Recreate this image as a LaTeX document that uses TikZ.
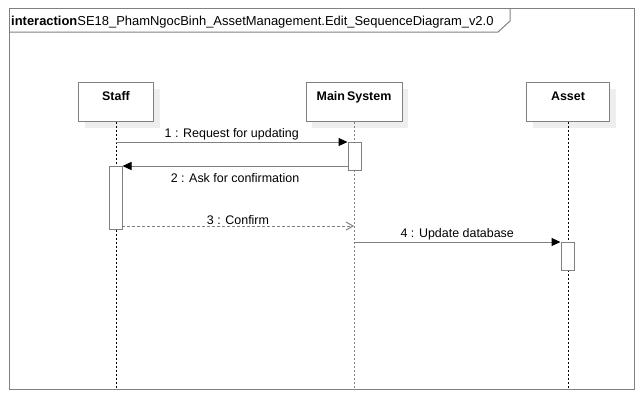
\documentclass[tikz,border=0pt]{standalone}
\usepackage{fontspec}
\setmainfont{Liberation Sans}
\usetikzlibrary{shadows,arrows.meta}
\definecolor{lineg}{RGB}{128,128,128}
\definecolor{shadowg}{RGB}{238,238,238}
\tikzset{
	lifebox/.style={draw=lineg,fill=white,line width=1bp,minimum width=#1,
		text height=14bp,text depth=17bp,inner sep=4bp,font=\bfseries\fontsize{12.5}{14}\selectfont,
		drop shadow={shadow xshift=6bp,shadow yshift=-6bp,fill=shadowg,opacity=1}},
	actbar/.style={draw=lineg,fill=white,line width=1bp,minimum width=13bp,inner sep=0pt},
	lifeline/.style={black,dash pattern=on 2bp off 2bp,line width=0.8bp},
	msg/.style={lineg,line width=1bp,-{Triangle[black,length=9bp,width=8bp]}},
	reply/.style={lineg,line width=1bp,dash pattern=on 3bp off 2bp,-{Straight Barb[length=7bp,width=8bp]}},
	msglabel/.style={text=black,font=\fontsize{12.5}{14}\selectfont,inner sep=1bp}
}
\begin{document}
\begin{tikzpicture}[x=1bp,y=-1bp]
	\useasboundingbox (0,0) rectangle (644,400);
	% frame
	\draw[lineg,line width=1bp] (9,8) rectangle (634,389);
	\draw[lineg,line width=1bp] (9,32) -- (498,32) -- (510,21) -- (510,8);
	\node[anchor=base west,inner sep=0pt,font=\fontsize{13}{14}\selectfont] (title) at (11,25)
		{\textbf{interaction}SE18\_PhamNgocBinh\_AssetManagement.Edit\_SequenceDiagram\_v2.0};
	% lifelines
	\node[lifebox=75bp,anchor=north] (staff) at (116,82) {Staff};
	\node[lifebox=96bp,anchor=north] (mainsys) at (354,82) {Main\,System};
	\node[lifebox=83bp,anchor=north] (asset) at (568,82) {Asset};
	\coordinate (staffend) at (116,389);
	\coordinate (mainend) at (354,389);
	\coordinate (assetend) at (568,389);
	\draw[lifeline] (staff) -- (staffend);
	\draw[lifeline,lineg,line width=1bp] (mainsys) -- (mainend);
	\draw[lifeline] (asset) -- (assetend);
	% activations
	\node[actbar,minimum height=28bp,anchor=north] (actM) at (354.5,142) {};
	\node[actbar,minimum height=63bp,anchor=north] (actS) at (115.5,166) {};
	\node[actbar,minimum height=28bp,anchor=north] (actA) at (567.5,242) {};
	% messages
	\draw[msg] (staff |- actM.north) -- (actM.north west)
		node[msglabel,midway,above] {1 : Request for updating};
	\draw[msg] (actM.west |- actS.north) -- (actS.north east)
		node[msglabel,midway,below,yshift=-6bp] {2 : Ask for confirmation};
	\coordinate (c3) at (122,226);
	\draw[reply] (c3) -- (mainsys |- c3)
		node[msglabel,midway,above] {3 : Confirm};
	\draw[msg] (mainsys |- actA.north) -- (actA.north west)
		node[msglabel,midway,above] {4 : Update database};
\end{tikzpicture}
\end{document}
